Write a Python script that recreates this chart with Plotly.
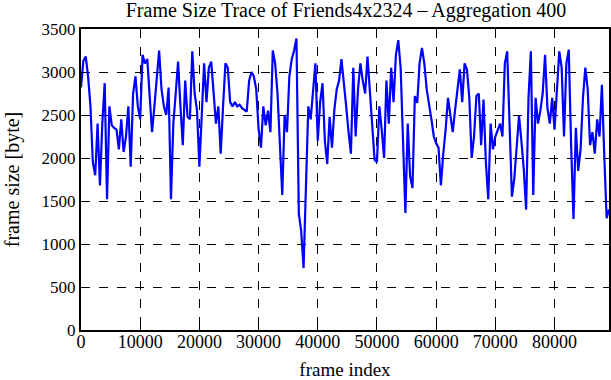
import plotly.graph_objects as go

# Aggregated frame sizes (bytes), one value per 400-frame block
frame_size = [
    2820, 3130, 3180, 2950, 2600, 1950, 1800, 2400, 1680, 2400,
    2870, 1520, 2600, 2380, 2350, 2330, 2100, 2450, 2070, 2250,
    2600, 1900, 2750, 2950, 2600, 2450, 3200, 3100, 3150, 2700,
    2300, 2600, 2950, 3250, 2800, 2600, 2500, 2820, 1520, 2400,
    2750, 3120, 2600, 2150, 2900, 2480, 2450, 3240, 2750, 2550,
    1900, 2450, 3100, 2650, 3050, 3120, 2800, 2400, 2600, 2050,
    2600, 3100, 3050, 2650, 2600, 2650, 2600, 2620, 2580, 2560,
    2540, 2900, 3000, 2950, 2800, 2340, 2120, 2600, 2380, 2550,
    2300, 3250, 3100, 2750, 2200, 1570, 2500, 2300, 2950, 3150,
    3250, 3390, 1350, 1150, 720, 1600, 2600, 2450, 2800, 3100,
    2200, 2650, 2870, 2200, 1930, 2480, 2120, 2560, 2800, 2900,
    3150, 2900, 2600, 2300, 2050, 3050, 2250, 2800, 3100, 2900,
    2750, 3180, 2800, 2350, 1980, 1950, 2600, 2330, 2000, 2900,
    2400, 3050, 2650, 3200, 3370, 3050, 2250, 1360, 2400, 1790,
    1650, 2720, 2640, 3100, 3280, 3100, 2800, 2640, 2450, 2250,
    2170, 2120, 1680, 2050, 2330, 2700, 2500, 2300, 2560, 2830,
    3030, 2650, 3100, 3030, 2700, 2000, 2250, 2720, 2750, 2150,
    2680, 1950, 1520, 2400, 2100, 2250, 2330, 2400, 2250, 3100,
    3240, 2330, 1550, 1760, 2140, 2490, 2200, 1870, 1400, 2700,
    3240, 1570, 2700, 2400, 2550, 2750, 3200, 2580, 2400, 2700,
    2330, 2800, 3240, 3050, 2250, 3100, 3260, 2150, 1290, 2350,
    1850, 2100, 2700, 3050, 2800, 2150, 2300, 2050, 2450, 2250,
    2850, 2030, 1300, 1400,
]
aggregation = 400
frame_index = [i * aggregation for i in range(len(frame_size))]

x_ticks = [0, 10000, 20000, 30000, 40000, 50000, 60000, 70000, 80000]
y_ticks = [0, 500, 1000, 1500, 2000, 2500, 3000, 3500]

font_family = "Liberation Serif, Times New Roman, serif"

fig = go.Figure()
fig.add_trace(go.Scatter(
    x=frame_index, y=frame_size, mode="lines",
    line=dict(color="#0000ff", width=2.2),
    showlegend=False,
))

axis_common = dict(
    showline=True, linecolor="black", linewidth=2, mirror="ticks",
    ticks="inside", ticklen=5, tickcolor="black", tickwidth=1,
    showgrid=True, gridcolor="black", griddash="dash", gridwidth=1,
    zeroline=False, automargin=False,
)

fig.update_xaxes(
    range=[0, frame_index[-1]], tickvals=x_ticks,
    ticktext=[str(v) for v in x_ticks],
    tickfont=dict(family=font_family, size=18, color="black"),
    ticklabelstandoff=-6,
    title=dict(text="frame index", font=dict(family=font_family, size=19, color="black"), standoff=14),
    **axis_common,
)
fig.update_yaxes(
    range=[0, 3500], tickvals=y_ticks,
    ticktext=[str(v) for v in y_ticks],
    tickfont=dict(family=font_family, size=17, color="black"),
    title=dict(text="frame size [byte]", font=dict(family=font_family, size=20, color="black"), standoff=17),
    **axis_common,
)

fig.update_layout(
    width=611, height=380,
    margin=dict(l=81, r=2, t=29, b=50),
    paper_bgcolor="white", plot_bgcolor="white",
    title=dict(
        text="Frame Size Trace of Friends4x2324 \u2013 Aggregation 400",
        font=dict(family=font_family, size=20, color="black"),
        x=346 / 611, xanchor="center", y=1 - 10 / 380, yanchor="middle",
    ),
)

fig.write_html(
    "out.html",
    config={"displayModeBar": False},
    post_script="document.body.style.margin='0';",
)
